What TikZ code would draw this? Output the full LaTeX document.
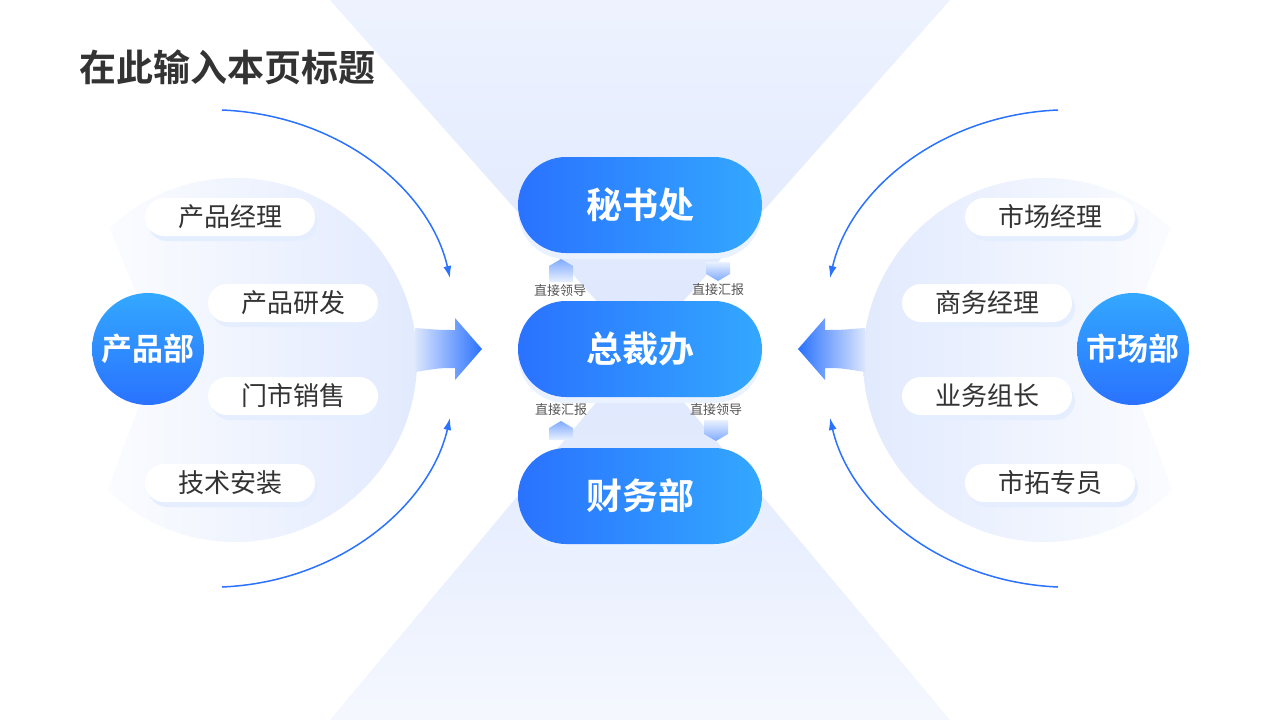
\documentclass[tikz,border=0pt]{standalone}
\usepackage{fontspec}
\setmainfont{Noto Sans CJK SC}
\newfontfamily\cjkb{Noto Sans CJK SC Bold}
\usetikzlibrary{arrows.meta}
\definecolor{bA}{HTML}{2A72FF}
\definecolor{bB}{HTML}{33A8FF}
\definecolor{pale}{HTML}{DCE6FD}
\definecolor{txt}{HTML}{333333}
\definecolor{lbl}{HTML}{555555}
\tikzset{
 big/.style={rounded corners=48pt,minimum width=244pt,minimum height=96pt,left color=bA,right color=bB,text=white,font=\cjkb\fontsize{36}{36}\selectfont},
 pill/.style={rounded corners=19pt,minimum width=170pt,minimum height=38pt,fill=white,text=txt,font=\fontsize{26}{26}\selectfont,
   preaction={fill=bA!12,transform canvas={shift={(3pt,-5pt)}}}},
 dept/.style={circle,minimum size=112pt,top color=bB,bottom color=bA,text=white,font=\cjkb\fontsize{31}{31}\selectfont},
 lab/.style={text=lbl,font=\fontsize{13}{13}\selectfont},
 curv/.style={draw=bA,line width=1.5pt,-{Latex[length=12pt,width=8pt]}},
 pent/.style={top color=bA!60,bottom color=bA!10,draw=none}
}
\begin{document}
\begin{tikzpicture}[x=1pt,y=-1pt]
\useasboundingbox (0,0) rectangle (1280,720);
\fill[white] (0,0) rectangle (1280,720);
% hourglass background
\shade[top color=pale!50,bottom color=pale] (330,0) -- (950,0) -- (640,350) -- cycle;
\shade[top color=pale,bottom color=pale!30] (640,350) -- (950,720) -- (330,720) -- cycle;
% side sectors
\begin{scope}
\clip (85,170) -- (160,350) -- (85,550) -- (480,550) -- (480,170) -- cycle;
\shade[left color=white,right color=pale!85] (235,360) circle (182);
\end{scope}
\begin{scope}
\clip (1195,170) -- (1120,350) -- (1195,550) -- (800,550) -- (800,170) -- cycle;
\shade[right color=white,left color=pale!85] (1045,360) circle (182);
\end{scope}
% thick arrows
\shade[left color=pale,right color=bA] (415,328) .. controls (440,330) .. (455,330) -- (455,318) -- (482,349) -- (455,380) -- (455,368) .. controls (440,368) .. (415,372) -- cycle;
\shade[right color=pale,left color=bA] (865,328) .. controls (840,330) .. (825,330) -- (825,318) -- (798,349) -- (825,380) -- (825,368) .. controls (840,368) .. (865,372) -- cycle;
% title
\node[anchor=west,text=txt,font=\cjkb\fontsize{37}{37}\selectfont] (title) at (76,67) {在此输入本页标题};
% center
\node[big,preaction={fill=bA!10,transform canvas={shift={(0pt,-6pt)}}}] (mi) at (640,205) {秘书处};
\node[big,preaction={fill=bA!10,transform canvas={shift={(0pt,-6pt)}}}] (zc) at (640,349) {总裁办};
\node[big,preaction={fill=bA!10,transform canvas={shift={(0pt,-6pt)}}}] (cw) at (640,496) {财务部};
% pills
\node[pill] (p1) at (230,217) {产品经理};
\node[pill] (p2) at (293,303) {产品研发};
\node[pill] (p3) at (293,396) {门市销售};
\node[pill] (p4) at (230,483) {技术安装};
\node[pill] (m1) at (1050,217) {市场经理};
\node[pill] (m2) at (987,303) {商务经理};
\node[pill] (m3) at (987,396) {业务组长};
\node[pill] (m4) at (1050,483) {市拓专员};
\node[dept] (cp) at (148,349) {产品部};
\node[dept] (sc) at (1133,349) {市场部};
% curved arrows
\coordinate (a1) at (222,110); \coordinate (a2) at (450,278);
\coordinate (a3) at (222,587); \coordinate (a4) at (450,418);
\coordinate (b1) at (1058,110); \coordinate (b2) at (830,278);
\coordinate (b3) at (1058,587); \coordinate (b4) at (830,418);
\draw[curv] (a1) .. controls (340,115) and (430,190) .. (a2);
\draw[curv] (a3) .. controls (340,582) and (430,505) .. (a4);
\draw[curv] (b1) .. controls (940,115) and (850,190) .. (b2);
\draw[curv] (b3) .. controls (940,582) and (850,505) .. (b4);
% small labels
\node[lab] (l1) at (560,291) {直接领导};
\node[lab] (l2) at (718,290) {直接汇报};
\node[lab] (l3) at (561,410) {直接汇报};
\node[lab] (l4) at (716,410) {直接领导};
\shade[pent] (549,282) -- (549,266) -- (561,259) -- (573,266) -- (573,282) -- cycle;
\shade[pent,top color=bA!10,bottom color=bA!60] (706,262) -- (730,262) -- (730,274) -- (718,281) -- (706,274) -- cycle;
\shade[pent] (549,440) -- (549,428) -- (561,421) -- (573,428) -- (573,440) -- cycle;
\shade[pent,top color=bA!10,bottom color=bA!60] (704,420) -- (728,420) -- (728,434) -- (716,441) -- (704,434) -- cycle;
\end{tikzpicture}
\end{document}
